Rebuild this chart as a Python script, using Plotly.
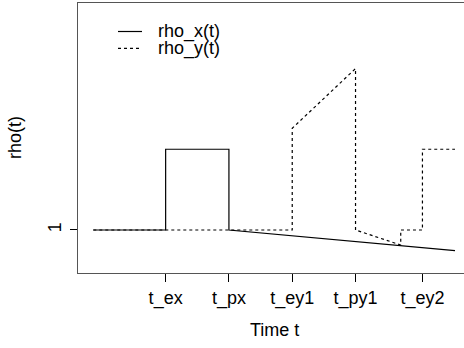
import plotly.graph_objects as go

# ---- data ----
x_rho_x = [0, 2.0, 2.0, 3.75, 3.75, 10.0]
y_rho_x = [1.0, 1.0, 1.5, 1.5, 1.0, 0.872]

x_rho_y = [0, 5.5, 5.5, 7.25, 7.25, 8.5, 8.5, 9.1, 9.1, 10.0]
y_rho_y = [1.0, 1.0, 1.63, 2.0, 1.0, 0.907, 1.0, 1.0, 1.5, 1.5]

tick_vals = [2.0, 3.75, 5.5, 7.25, 9.1]
tick_text = ["t_ex", "t_px", "t_ey1", "t_py1", "t_ey2"]
series_names = ["rho_x(t)", "rho_y(t)"]

FONT = "Liberation Sans, Arial, Helvetica, sans-serif"
FS = 18
W, H = 464, 348
L, R, T, B = 78, 0, 3, 75
PW, PH = W - L - R, H - T - B


def px2paper_x(px):
    return (px - L) / PW


def px2paper_y(py):
    return (H - B - py) / PH


fig = go.Figure()
fig.add_trace(go.Scatter(x=x_rho_x, y=y_rho_x, mode="lines", name=series_names[0],
                         line=dict(color="black", width=1.2), showlegend=False))
fig.add_trace(go.Scatter(x=x_rho_y, y=y_rho_y, mode="lines", name=series_names[1],
                         line=dict(color="black", width=1.2, dash="3px,3px"), showlegend=False))

# legend (manual, R-style)
shapes = []
annotations = []
for i, (name, dash) in enumerate(zip(series_names, ["solid", "3px,3px"])):
    py = 31.5 + i * 16.8
    shapes.append(dict(type="line", xref="paper", yref="paper",
                       x0=px2paper_x(118), x1=px2paper_x(142),
                       y0=px2paper_y(py), y1=px2paper_y(py),
                       line=dict(color="black", width=1.2, dash=dash)))
    annotations.append(dict(text=name, xref="paper", yref="paper",
                            x=px2paper_x(156), y=px2paper_y(py),
                            xanchor="left", yanchor="middle", showarrow=False,
                            font=dict(family=FONT, size=FS, color="black")))

# axis titles
annotations.append(dict(text="Time t", xref="x", yref="paper", x=5.0,
                        y=px2paper_y(329.5), xanchor="center", yanchor="middle",
                        showarrow=False, font=dict(family=FONT, size=FS, color="black")))
annotations.append(dict(text="rho(t)", xref="paper", yref="paper", x=px2paper_x(15),
                        y=0.5, xanchor="center", yanchor="middle", textangle=-90,
                        showarrow=False, font=dict(family=FONT, size=FS, color="black")))

fig.update_layout(
    width=W, height=H,
    margin=dict(l=L, r=R, t=T, b=B, pad=0),
    paper_bgcolor="white", plot_bgcolor="white",
    shapes=shapes, annotations=annotations,
    xaxis=dict(range=[-0.423, 10.249], showgrid=False, zeroline=False,
               showline=True, mirror=True, linecolor="#555", linewidth=1,
               tickmode="array", tickvals=tick_vals, ticktext=tick_text,
               ticks="outside", ticklen=8, tickcolor="black", tickwidth=1,
               ticklabelstandoff=0,
               tickfont=dict(family=FONT, size=FS, color="black")),
    yaxis=dict(range=[0.7336, 2.406], showgrid=False, zeroline=False,
               showline=True, mirror=False, linecolor="#555", linewidth=1,
               tickmode="array", tickvals=[1], ticktext=["1"], tickangle=-90,
               ticks="outside", ticklen=7, tickcolor="black", tickwidth=1,
               ticklabelstandoff=2,
               tickfont=dict(family=FONT, size=FS, color="black")),
)

fig.write_html("out.html", config={"displayModeBar": False},
               post_script="document.body.style.margin='0';document.body.style.overflow='hidden';")
